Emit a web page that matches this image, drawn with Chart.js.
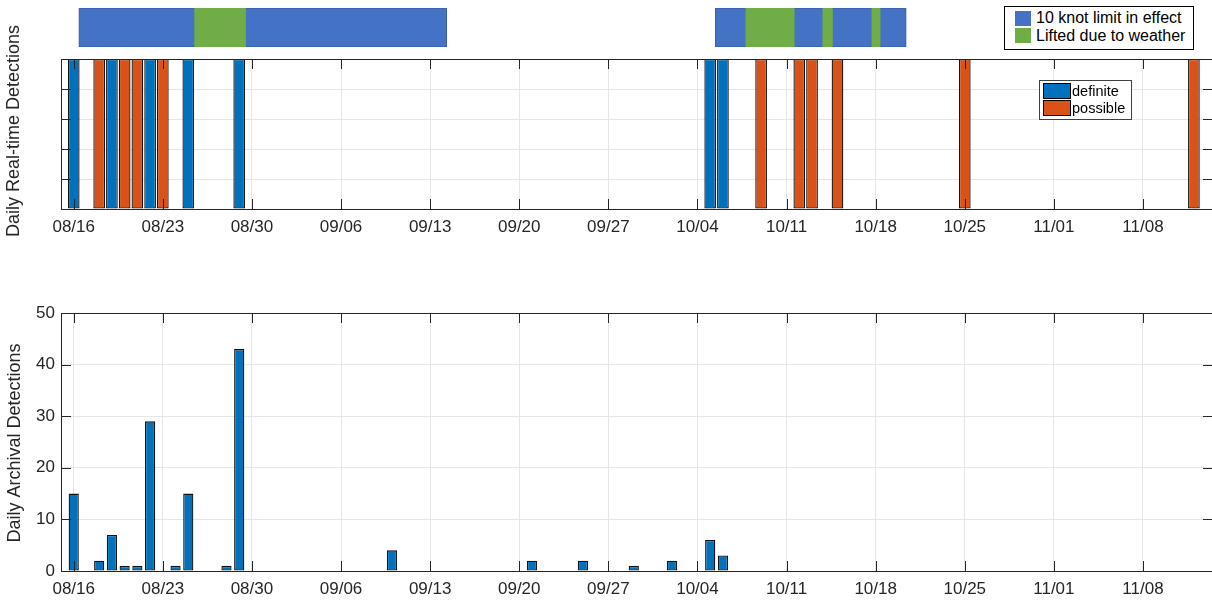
<!DOCTYPE html>
<html>
<head>
<meta charset="utf-8">
<script src="https://cdn.jsdelivr.net/npm/chart.js@4/dist/chart.umd.min.js"></script>
<style>
html,body{margin:0;padding:0;background:#fff;overflow:hidden;width:1212px;height:601px;position:relative;}
canvas{position:absolute;left:0;}
#status{top:0;}
#rt{top:0;}
#arch{top:290px;}
.legend{position:absolute;background:#fff;font-family:"Liberation Sans",Arial,sans-serif;color:#000;box-sizing:border-box;}
.legend i{position:absolute;display:block;box-sizing:border-box;}
.legend span{position:absolute;white-space:nowrap;}
#legStatus{left:1004px;top:6px;width:190px;height:44px;border:1.5px solid #000;font-size:16px;}
#legStatus i{left:10px;width:16px;height:15px;}
#legStatus span{left:31px;}
#legDet{left:1039px;top:80px;width:93px;height:40px;border:1px solid #404040;font-size:14.5px;}
#legDet i{left:3px;width:28px;height:16px;border:1px solid #000;}
#legDet span{left:32px;}
</style>
</head>
<body>
<canvas id="rt" width="1218" height="250"></canvas>
<canvas id="status" width="1218" height="56"></canvas>
<canvas id="arch" width="1218" height="311"></canvas>

<div class="legend" id="legStatus">
  <i style="top:4px;background:#4472c4"></i><span style="top:2px">10 knot limit in effect</span>
  <i style="top:21px;background:#70ad47"></i><span style="top:20px">Lifted due to weather</span>
</div>
<div class="legend" id="legDet">
  <i style="top:2px;background:#0072bd"></i><span style="top:2px">definite</span>
  <i style="top:19px;background:#d95319"></i><span style="top:19px">possible</span>
</div>

<script>
// days counted from 08/16
const tickDays = [0,7,14,21,28,35,42,49,56,63,70,77,84];
const tickLabels = ['08/16','08/23','08/30','09/06','09/13','09/20','09/27','10/04','10/11','10/18','10/25','11/01','11/08'];

// speed limit status strip
const limitStart = [0.4, 50.4];
const limitEnd = [29.3, 65.4];
const liftedStart = [9.5, 52.8, 58.85, 62.7];
const liftedEnd = [13.5, 56.6, 59.6, 63.35];

// real-time detections
const definiteDays = [0,3,6,9,13,50,51];
const possibleDays = [2,4,5,7,54,57,58,60,70,88];

// archival detections
const archivalDays = [0,2,3,4,5,6,8,9,12,13,25,36,40,44,47,50,51];
const archivalCounts = [15,2,7,1,1,29,1,15,1,43,4,2,2,1,2,6,3];

const X_MIN = -1, X_MAX = 89.5;
const AXIS_COLOR = '#262626';
const GRID_COLOR = '#e6e6e6';

Chart.defaults.font.family = '"Liberation Sans", Arial, sans-serif';
Chart.defaults.color = AXIS_COLOR;
Chart.defaults.animation = false;

// box around the axes with inward ticks on all four sides
const boxTicks = {
  id:'boxTicks',
  afterDatasetsDraw(chart){
    const {ctx, chartArea:a, scales:{x,y}} = chart;
    ctx.save();
    ctx.strokeStyle = AXIS_COLOR; ctx.lineWidth = 1;
    ctx.beginPath();
    x.ticks.forEach(t=>{
      const px = Math.round(x.getPixelForValue(t.value))+0.5;
      if(px<=a.left+1 || px>=a.right-1) return;
      ctx.moveTo(px,a.bottom); ctx.lineTo(px,a.bottom-10);
      ctx.moveTo(px,a.top); ctx.lineTo(px,a.top+10);
    });
    y.ticks.forEach(t=>{
      const py = Math.round(y.getPixelForValue(t.value))+0.5;
      if(py<=a.top+1 || py>=a.bottom-1) return;
      ctx.moveTo(a.left,py); ctx.lineTo(a.left+10,py);
      ctx.moveTo(a.right,py); ctx.lineTo(a.right-10,py);
    });
    ctx.stroke();
    ctx.strokeRect(Math.round(a.left)+0.5, Math.round(a.top)+0.5, Math.round(a.width), Math.round(a.height));
    ctx.restore();
  }
};

// rotated y title, not clipped to the axis height
const sideTitle = {
  id:'sideTitle',
  afterDraw(chart, args, opts){
    const {ctx, chartArea:a} = chart;
    ctx.save();
    ctx.translate(opts.x, (a.top+a.bottom)/2 + (opts.dy||0));
    ctx.rotate(-Math.PI/2);
    ctx.font = '18px "Liberation Sans", Arial, sans-serif';
    ctx.fillStyle = AXIS_COLOR;
    ctx.textAlign = 'center';
    ctx.textBaseline = 'middle';
    ctx.fillText(opts.text, 0, 0);
    ctx.restore();
  }
};

function xScale(height){
  return {
    type:'linear', min:X_MIN, max:X_MAX, offset:false,
    afterBuildTicks: s => { s.ticks = tickDays.map(v=>({value:v})); },
    afterFit: s => { s.height = height; },
    grid:{color:GRID_COLOR, drawTicks:false, offset:false},
    border:{display:false},
    ticks:{
      padding:8,
      font:{size:17},
      maxRotation:0,
      autoSkip:false,
      callback: v => tickLabels[tickDays.indexOf(v)]
    }
  };
}

// status strip
const statusSets = [];
limitStart.forEach((s,i)=>statusSets.push({
  data:[[s,limitEnd[i]]], backgroundColor:'#4472c4', borderColor:'#3a5fa8', borderWidth:1, borderSkipped:false, order:2
}));
liftedStart.forEach((s,i)=>statusSets.push({
  data:[[s,liftedEnd[i]]], backgroundColor:'#70ad47', borderColor:'#70ad47', borderWidth:0, borderSkipped:false, order:1
}));
new Chart(document.getElementById('status'), {
  type:'bar',
  data:{labels:['status'], datasets:statusSets},
  options:{
    indexAxis:'y', responsive:false,
    layout:{padding:{left:61,right:5,top:8,bottom:9}},
    scales:{
      x:{type:'linear', min:X_MIN, max:X_MAX, offset:false, display:false},
      y:{display:false}
    },
    datasets:{bar:{grouped:false, barPercentage:1, categoryPercentage:1}},
    plugins:{legend:{display:false}, tooltip:{enabled:false}}
  }
});

// real-time detections
new Chart(document.getElementById('rt'), {
  type:'bar',
  data:{datasets:[
    {label:'definite', data:definiteDays.map(d=>({x:d,y:1})), backgroundColor:'#0072bd', borderColor:'#141414', borderWidth:1.3},
    {label:'possible', data:possibleDays.map(d=>({x:d,y:1})), backgroundColor:'#d95319', borderColor:'#141414', borderWidth:1.3}
  ]},
  options:{
    responsive:false,
    layout:{padding:{left:0,right:5,top:59,bottom:0}},
    datasets:{bar:{grouped:false, barPercentage:0.92, categoryPercentage:1, borderSkipped:false}},
    scales:{
      x:xScale(41),
      y:{
        min:0, max:1,
        ticks:{stepSize:0.2, display:false},
        afterFit: s => { s.width = 61; },
        grid:{color:GRID_COLOR, drawTicks:false},
        border:{display:false}
      }
    },
    plugins:{legend:{display:false}, tooltip:{enabled:false}, sideTitle:{text:'Daily Real-time Detections', x:14, dy:-3}}
  },
  plugins:[boxTicks, sideTitle]
});

// archival detections
new Chart(document.getElementById('arch'), {
  type:'bar',
  data:{datasets:[
    {label:'archival', data:archivalDays.map((d,i)=>({x:d,y:archivalCounts[i]})), backgroundColor:'#0072bd', borderColor:'#141414', borderWidth:1.3}
  ]},
  options:{
    responsive:false,
    layout:{padding:{left:0,right:5,top:23,bottom:0}},
    datasets:{bar:{barPercentage:0.8, categoryPercentage:1, borderSkipped:false}},
    scales:{
      x:xScale(30),
      y:{
        min:0, max:50,
        ticks:{stepSize:10, padding:6, font:{size:17}},
        afterFit: s => { s.width = 61; },
        grid:{color:GRID_COLOR, drawTicks:false},
        border:{display:false}
      }
    },
    plugins:{legend:{display:false}, tooltip:{enabled:false}, sideTitle:{text:'Daily Archival Detections', x:15, dy:1}}
  },
  plugins:[boxTicks, sideTitle]
});
</script>
</body>
</html>
